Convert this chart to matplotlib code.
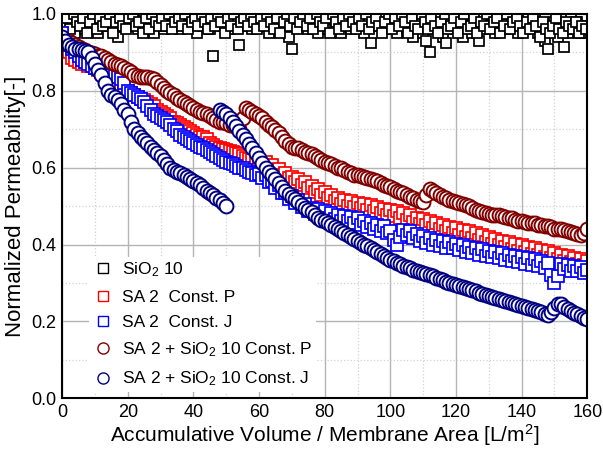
import matplotlib
matplotlib.use("Agg")
import matplotlib.pyplot as plt
from matplotlib.lines import Line2D
from matplotlib.ticker import MultipleLocator

plt.rcParams['font.family'] = ['Liberation Sans', 'DejaVu Sans']
plt.rcParams['mathtext.fontset'] = 'custom'
plt.rcParams['mathtext.rm'] = 'Liberation Sans'
plt.rcParams['mathtext.it'] = 'Liberation Sans:italic'

# ---- data ----
# SiO2 10: readings at whole and half steps of volume
sio2_x = list(range(0, 161))
sio2_y = [0.98, 0.96, 0.99, 0.97, 0.95, 0.99, 0.98, 0.96, 1.00, 0.97,
          0.99, 0.95, 0.98, 1.00, 0.97, 0.99, 0.96, 0.94, 0.99, 0.98,
          1.00, 0.97, 0.99, 0.96, 0.98, 1.00, 0.97, 0.99, 0.95, 0.98,
          1.00, 0.96, 0.99, 0.97, 1.00, 0.98, 0.96, 0.99, 0.97, 1.00,
          0.98, 0.95, 0.99, 0.97, 1.00, 0.96, 0.89, 0.98, 0.99, 0.97,
          1.00, 0.96, 0.98, 0.99, 0.92, 0.97, 1.00, 0.98, 0.96, 0.99,
          0.97, 1.00, 0.98, 0.95, 0.99, 0.97, 1.00, 0.96, 0.98, 0.94,
          0.91, 0.99, 0.97, 1.00, 0.98, 0.96, 0.99, 0.97, 0.95, 1.00,
          0.98, 0.96, 0.99, 0.97, 1.00, 0.95, 0.98, 0.99, 0.96, 1.00,
          0.97, 0.99, 0.95, 0.98, 0.925, 1.00, 0.97, 0.99, 0.96, 0.98,
          1.00, 0.97, 0.95, 0.99, 0.98, 0.96, 1.00, 0.94, 0.97, 0.99,
          0.95, 0.93, 0.90, 0.96, 0.99, 0.97, 0.94, 0.925, 0.98, 1.00,
          0.96, 0.99, 0.94, 0.97, 1.00, 0.95, 0.98, 0.93, 0.99, 0.96,
          1.00, 0.97, 0.95, 0.99, 0.98, 0.96, 1.00, 0.97, 0.99, 0.95,
          0.98, 0.96, 0.99, 0.97, 1.00, 0.95, 0.97, 0.93, 0.91, 0.96,
          0.98, 0.94, 0.97, 0.915, 0.95, 0.99, 0.96, 0.98, 0.95, 0.97,
          0.96]
sio2_xh = [i + 0.5 for i in range(0, 160)]
sio2_yh = [0.97, 0.99, 0.96, 1.00, 0.98, 0.97, 0.99, 0.95, 0.98, 1.00,
           0.96, 0.99, 0.97, 0.98, 1.00, 0.95, 0.98, 0.99, 0.97, 0.96,
           0.99, 1.00, 0.97, 0.98, 0.95, 0.99, 0.96, 1.00, 0.98, 0.97,
           0.99, 0.97, 1.00, 0.96, 0.98, 0.99, 0.97, 1.00, 0.96, 0.98,
           0.99, 0.97, 1.00, 0.98, 0.96, 0.99, 0.97, 1.00, 0.98, 0.95,
           0.99, 0.97, 1.00, 0.96, 0.98, 0.99, 0.97, 1.00, 0.98, 0.96,
           0.99, 0.97, 1.00, 0.98, 0.96, 0.99, 0.95, 0.98, 1.00, 0.97,
           0.99, 0.96, 0.98, 1.00, 0.97, 0.99, 0.96, 1.00, 0.98, 0.97,
           0.99, 0.95, 1.00, 0.98, 0.96, 0.99, 0.97, 1.00, 0.98, 0.96,
           0.99, 0.97, 1.00, 0.96, 0.98, 0.99, 0.97, 0.95, 0.98, 1.00,
           0.96, 0.99, 0.97, 1.00, 0.98, 0.95, 0.99, 0.97, 0.96, 1.00,
           0.98, 0.96, 0.99, 0.97, 0.95, 0.98, 1.00, 0.96, 0.97, 0.99,
           0.95, 0.98, 1.00, 0.96, 0.97, 0.99, 0.95, 0.98, 0.97, 1.00,
           0.96, 0.98, 0.99, 0.95, 0.97, 1.00, 0.96, 0.98, 0.99, 0.97,
           0.95, 0.98, 0.96, 0.99, 0.97, 0.94, 0.98, 0.96, 0.95, 0.97,
           0.99, 0.96, 0.95, 0.98, 0.97, 0.96, 0.98, 0.95, 0.97, 0.96]

sa_x = list(range(0, 161))
sa_p_y = [0.95, 0.92, 0.90, 0.885, 0.88, 0.875, 0.87, 0.875, 0.865, 0.87,
          0.86, 0.855, 0.85, 0.848, 0.84, 0.835, 0.83, 0.82, 0.81, 0.805,
          0.80, 0.795, 0.79, 0.785, 0.78, 0.775, 0.77, 0.765, 0.76, 0.75,
          0.745, 0.74, 0.735, 0.73, 0.72, 0.715, 0.71, 0.705, 0.70, 0.695,
          0.69, 0.685, 0.68, 0.68, 0.675, 0.665, 0.66, 0.655, 0.65, 0.648,
          0.645, 0.643, 0.64, 0.638, 0.635, 0.63, 0.625, 0.622, 0.62, 0.617,
          0.618, 0.608, 0.614, 0.600, 0.606, 0.592, 0.596, 0.580, 0.586, 0.572,
          0.576, 0.562, 0.570, 0.556, 0.562, 0.546, 0.552, 0.536, 0.544, 0.528,
          0.536, 0.520, 0.528, 0.512, 0.522, 0.506, 0.516, 0.500, 0.512, 0.498,
          0.508, 0.494, 0.506, 0.490, 0.502, 0.486, 0.498, 0.482, 0.493, 0.478,
          0.490, 0.474, 0.486, 0.470, 0.482, 0.465, 0.476, 0.458, 0.470, 0.454,
          0.466, 0.450, 0.462, 0.444, 0.456, 0.440, 0.450, 0.434, 0.446, 0.430,
          0.442, 0.424, 0.438, 0.420, 0.434, 0.416, 0.430, 0.412, 0.424, 0.406,
          0.420, 0.402, 0.414, 0.398, 0.410, 0.394, 0.406, 0.388, 0.402, 0.384,
          0.398, 0.380, 0.394, 0.376, 0.390, 0.372, 0.386, 0.368, 0.382, 0.366,
          0.378, 0.362, 0.374, 0.358, 0.370, 0.354, 0.366, 0.350, 0.362, 0.348,
          0.356]
sa_j_y = [0.95, 0.93, 0.92, 0.91, 0.90, 0.89, 0.88, 0.875, 0.87, 0.865,
          0.86, 0.858, 0.855, 0.85, 0.845, 0.84, 0.838, 0.835, 0.83, 0.82,
          0.80, 0.795, 0.79, 0.785, 0.78, 0.77, 0.76, 0.75, 0.74, 0.735,
          0.73, 0.725, 0.72, 0.71, 0.70, 0.695, 0.685, 0.68, 0.675, 0.67,
          0.665, 0.66, 0.655, 0.65, 0.645, 0.64, 0.635, 0.63, 0.625, 0.62,
          0.615, 0.612, 0.61, 0.605, 0.60, 0.598, 0.595, 0.59, 0.585, 0.582,
          0.584, 0.572, 0.580, 0.562, 0.566, 0.548, 0.554, 0.534, 0.534, 0.518,
          0.526, 0.508, 0.516, 0.498, 0.506, 0.488, 0.496, 0.480, 0.492, 0.476,
          0.488, 0.470, 0.482, 0.466, 0.478, 0.462, 0.474, 0.460, 0.472, 0.456,
          0.468, 0.452, 0.462, 0.446, 0.456, 0.440, 0.452, 0.436, 0.448, 0.430,
          0.436, 0.412, 0.400, 0.420, 0.438, 0.424, 0.436, 0.418, 0.428, 0.410,
          0.422, 0.404, 0.418, 0.400, 0.412, 0.396, 0.408, 0.392, 0.406, 0.390,
          0.402, 0.386, 0.398, 0.380, 0.394, 0.378, 0.390, 0.374, 0.388, 0.370,
          0.384, 0.368, 0.380, 0.364, 0.378, 0.360, 0.374, 0.358, 0.370, 0.354,
          0.368, 0.350, 0.364, 0.348, 0.362, 0.344, 0.358, 0.340, 0.352, 0.320,
          0.300, 0.318, 0.350, 0.336, 0.348, 0.332, 0.344, 0.330, 0.342, 0.326,
          0.334]

mix_p_x = list(range(2, 161))
mix_p_y = [0.93, 0.925, 0.92, 0.915, 0.91, 0.905, 0.90, 0.898,
           0.895, 0.89, 0.89, 0.885, 0.88, 0.875, 0.87, 0.868, 0.865, 0.86,
           0.855, 0.848, 0.84, 0.838, 0.835, 0.835, 0.835, 0.833, 0.83, 0.822,
           0.815, 0.808, 0.80, 0.795, 0.79, 0.782, 0.775, 0.77, 0.765, 0.76,
           0.755, 0.75, 0.745, 0.742, 0.74, 0.735, 0.73, 0.725, 0.72, 0.718,
           0.715, 0.712, 0.71, 0.705, 0.70, 0.73, 0.755, 0.75, 0.745, 0.74,
           0.735, 0.728, 0.72, 0.712, 0.705, 0.698, 0.69, 0.68, 0.67, 0.662,
           0.655, 0.652, 0.65, 0.645, 0.64, 0.638, 0.635, 0.63, 0.625, 0.62,
           0.615, 0.612, 0.61, 0.605, 0.60, 0.598, 0.595, 0.59, 0.585, 0.582,
           0.58, 0.578, 0.575, 0.572, 0.57, 0.568, 0.565, 0.56, 0.555, 0.552,
           0.55, 0.545, 0.54, 0.538, 0.535, 0.53, 0.525, 0.52, 0.515, 0.512,
           0.51, 0.53, 0.545, 0.54, 0.535, 0.53, 0.525, 0.52, 0.515, 0.512,
           0.51, 0.508, 0.505, 0.502, 0.50, 0.495, 0.49, 0.488, 0.485, 0.482,
           0.48, 0.478, 0.477, 0.476, 0.475, 0.472, 0.47, 0.468, 0.465, 0.462,
           0.46, 0.458, 0.457, 0.456, 0.455, 0.452, 0.45, 0.448, 0.447, 0.445,
           0.44, 0.44, 0.44, 0.437, 0.435, 0.432, 0.43, 0.427, 0.425, 0.43,
           0.44]

mix_j1_x = list(range(0, 51))
mix_j1_y = [0.94, 0.93, 0.92, 0.915, 0.91, 0.908, 0.905, 0.903, 0.90, 0.885,
            0.87, 0.855, 0.84, 0.82, 0.80, 0.79, 0.785, 0.775, 0.765, 0.75,
            0.74, 0.72, 0.70, 0.69, 0.68, 0.672, 0.665, 0.655, 0.645, 0.638,
            0.63, 0.62, 0.61, 0.60, 0.595, 0.59, 0.585, 0.58, 0.575, 0.57,
            0.565, 0.56, 0.555, 0.548, 0.54, 0.535, 0.53, 0.522, 0.515, 0.508,
            0.50]
mix_j2_x = list(range(48, 161))
mix_j2_y = [0.75, 0.745,
            0.74, 0.73, 0.72, 0.708, 0.695, 0.685, 0.675, 0.662, 0.65, 0.638,
            0.625, 0.612, 0.60, 0.59, 0.58, 0.57, 0.56, 0.55, 0.54, 0.532,
            0.525, 0.518, 0.51, 0.502, 0.495, 0.49, 0.485, 0.478, 0.47, 0.465,
            0.46, 0.455, 0.45, 0.445, 0.44, 0.435, 0.43, 0.425, 0.42, 0.415,
            0.41, 0.405, 0.40, 0.395, 0.39, 0.385, 0.38, 0.375, 0.37, 0.365,
            0.36, 0.356, 0.353, 0.349, 0.345, 0.341, 0.338, 0.335, 0.332, 0.329,
            0.326, 0.323, 0.32, 0.317, 0.314, 0.31, 0.307, 0.303, 0.30, 0.298,
            0.295, 0.292, 0.29, 0.287, 0.284, 0.281, 0.278, 0.275, 0.272, 0.269,
            0.266, 0.263, 0.26, 0.258, 0.255, 0.252, 0.25, 0.248, 0.245, 0.242,
            0.24, 0.238, 0.235, 0.232, 0.23, 0.227, 0.224, 0.22, 0.216, 0.225,
            0.235, 0.245, 0.245, 0.238, 0.232, 0.227, 0.222, 0.218, 0.213, 0.209,
            0.205]

labels = [r"SiO$_2$ 10", "SA 2  Const. P", "SA 2  Const. J",
          r"SA 2 + SiO$_2$ 10 Const. P", r"SA 2 + SiO$_2$ 10 Const. J"]
colors = ["black", "#ff0000", "#0000ff", "#800000", "#000080"]

fig = plt.figure(figsize=(6.03, 4.51), dpi=100)
ax = fig.add_axes([0.103, 0.117, 0.871, 0.852])

sq = dict(marker='s', linestyle='none', markerfacecolor='white', markeredgewidth=1.25)
ci = dict(marker='o', linestyle='none', markerfacecolor='white', markeredgewidth=1.4)

ax.plot(sio2_x, sio2_y, color=colors[0], markersize=7.5, **sq)
ax.plot(sio2_xh, sio2_yh, color=colors[0], markersize=7.5, **sq)
ax.plot(sa_x, sa_p_y, color=colors[1], markersize=8, **sq)
ax.plot(sa_x, sa_j_y, color=colors[2], markersize=8, **sq)
ax.plot(mix_p_x, mix_p_y, color=colors[3], markersize=10, **ci)
ax.plot(mix_j1_x, mix_j1_y, color=colors[4], markersize=10, **ci)
ax.plot(mix_j2_x, mix_j2_y, color=colors[4], markersize=10, **ci)

ax.set_xlim(0, 160)
ax.set_ylim(0, 1.0)
ax.xaxis.set_major_locator(MultipleLocator(20))
ax.xaxis.set_minor_locator(MultipleLocator(10))
ax.yaxis.set_minor_locator(MultipleLocator(0.1))
ax.set_yticks([0.0, 0.2, 0.4, 0.6, 0.8, 1.0])
ax.set_yticklabels(["0.0", "0.2", "0.4", "0.6", "0.8", "1.0"])

ax.grid(which='major', color='#b4b4b4', linewidth=1.0, linestyle='-')
ax.grid(which='minor', color='#d2d2d2', linewidth=0.9, linestyle=':')
ax.set_axisbelow(True)
ax.tick_params(which='both', direction='in', length=0, labelsize=13, pad=4)
for s in ax.spines.values():
    s.set_linewidth(1.5)
    s.set_color('black')

ax.set_xlabel(r"Accumulative Volume / Membrane Area [L/m$^2$]", fontsize=15, labelpad=1)
ax.set_ylabel("Normalized Permeability[-]", fontsize=16, labelpad=4)

handles = [
    Line2D([], [], color=colors[0], marker='s', linestyle='none', markerfacecolor='white', markersize=7, markeredgewidth=1.0),
    Line2D([], [], color=colors[1], marker='s', linestyle='none', markerfacecolor='white', markersize=7, markeredgewidth=1.0),
    Line2D([], [], color=colors[2], marker='s', linestyle='none', markerfacecolor='white', markersize=7, markeredgewidth=1.0),
    Line2D([], [], color=colors[3], marker='o', linestyle='none', markerfacecolor='white', markersize=8, markeredgewidth=1.0),
    Line2D([], [], color=colors[4], marker='o', linestyle='none', markerfacecolor='white', markersize=8, markeredgewidth=1.0),
]
leg = ax.legend(handles, labels, loc='lower left', bbox_to_anchor=(0.035, -0.006),
                frameon=True, fontsize=12.5, handletextpad=0.5, labelspacing=0.6,
                borderpad=0.2, handlelength=1.2)
leg.get_frame().set_edgecolor('none')
leg.get_frame().set_facecolor('white')
leg.get_frame().set_alpha(1.0)

fig.savefig("out.png", dpi=100)
